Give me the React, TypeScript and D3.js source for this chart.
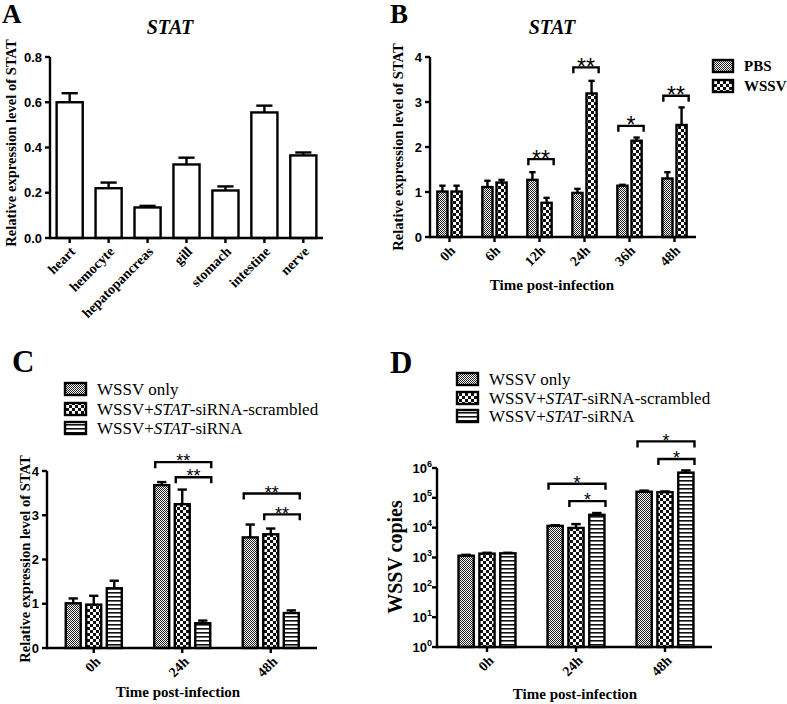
import React from 'react';
import * as d3 from 'd3';

const SERIF = '"Liberation Serif", "Times New Roman", Times, "DejaVu Serif", serif';
const SANS = '"Liberation Sans", Arial, Helvetica, sans-serif';

// ---------- Panel A data ----------
const tissues = ['heart', 'hemocyte', 'hepatopancreas', 'gill', 'stomach', 'intestine', 'nerve'];
const tissueMean = [0.6, 0.22, 0.135, 0.325, 0.21, 0.555, 0.365];
const tissueErr = [0.04, 0.025, 0.007, 0.03, 0.018, 0.03, 0.013];
const ticksA = [0, 0.2, 0.4, 0.6, 0.8];

// ---------- Panel B data ----------
const timesB = ['0h', '6h', '12h', '24h', '36h', '48h'];
const seriesB = ['PBS', 'WSSV'];
const pbsMean = [1.01, 1.11, 1.27, 0.98, 1.14, 1.3];
const pbsErr = [0.13, 0.14, 0.17, 0.09, 0.02, 0.14];
const wssvMean = [1.01, 1.21, 0.76, 3.19, 2.14, 2.49];
const wssvErr = [0.13, 0.06, 0.11, 0.28, 0.07, 0.39];
const ticksB = [0, 1, 2, 3, 4];
const sigBGroups = ['12h', '24h', '36h', '48h'];
const sigBLevels = [1.73, 3.77, 2.47, 3.14];
const sigBLabels = ['**', '**', '*', '**'];

// ---------- Panel C data ----------
const timesC = ['0h', '24h', '48h'];
const seriesC = ['WSSV only', 'WSSV+STAT-siRNA-scrambled', 'WSSV+STAT-siRNA'];
const cOnlyMean = [1.01, 3.68, 2.5];
const cOnlyErr = [0.11, 0.07, 0.29];
const cScrMean = [0.98, 3.25, 2.57];
const cScrErr = [0.2, 0.33, 0.13];
const cSiMean = [1.35, 0.56, 0.79];
const cSiErr = [0.17, 0.06, 0.06];
const ticksC = [0, 1, 2, 3, 4];
const sigCGroups = ['24h', '24h', '48h', '48h'];
const sigCFrom = [0, 1, 0, 1];
const sigCTo = [2, 2, 2, 2];
const sigCLevels = [4.2, 3.86, 3.49, 3.02];
const sigCLabels = ['**', '**', '**', '**'];

// ---------- Panel D data ----------
const dOnlyMean = [1150, 11500, 160000];
const dOnlyErr = [80, 600, 15000];
const dScrMean = [1350, 9800, 155000];
const dScrErr = [90, 3400, 9000];
const dSiMean = [1380, 27000, 700000];
const dSiErr = [60, 4000, 130000];
const ticksD = [1, 10, 100, 1000, 10000, 100000, 1000000];
const sigDGroups = ['24h', '24h', '48h', '48h'];
const sigDFrom = [0, 1, 0, 1];
const sigDTo = [2, 2, 2, 2];
const sigDLevels = [295000, 77600, 7800000, 2000000];
const sigDLabels = ['*', '*', '*', '*'];

const fills = ['url(#fine)', 'url(#checker)', 'url(#stripe)'];
const SW = 2.4;

const serif = (size: number, bold = true, italic = false): React.CSSProperties => ({
  fontFamily: SERIF,
  fontSize: size,
  fontWeight: bold ? 'bold' : 'normal',
  fontStyle: italic ? 'italic' : 'normal',
});
const sans = (size: number, bold = true): React.CSSProperties => ({
  fontFamily: SANS,
  fontSize: size,
  fontWeight: bold ? 'bold' : 'normal',
});

function Patterns() {
  return (
    <defs>
      <pattern id="fine" width="2" height="2" patternUnits="userSpaceOnUse">
        <rect width="2" height="2" fill="#fff" />
        <rect x="0" y="0" width="1" height="1" fill="#222" />
        <rect x="1" y="1" width="1" height="1" fill="#222" />
      </pattern>
      <pattern id="checker" width="6" height="6" patternUnits="userSpaceOnUse">
        <rect width="6" height="6" fill="#fff" />
        <rect width="3" height="3" fill="#111" />
        <rect x="3" y="3" width="3" height="3" fill="#111" />
      </pattern>
      <pattern id="stripe" width="4" height="4" patternUnits="userSpaceOnUse">
        <rect width="4" height="4" fill="#fff" />
        <rect y="0" width="4" height="1.6" fill="#111" />
      </pattern>
    </defs>
  );
}

function YAxis({ y, x, ticks, label, log }: any) {
  const [r0, r1] = y.range();
  return (
    <g>
      <line x1={x} x2={x} y1={r0 + SW / 2} y2={r1} stroke="#000" strokeWidth={SW} />
      {ticks.map((t: number) => (
        <g key={t}>
          <line x1={x - 5} x2={x} y1={y(t)} y2={y(t)} stroke="#000" strokeWidth={SW} />
          {log ? (
            <text x={x - 5} y={y(t) + 4.5} textAnchor="end" style={sans(13)}>
              10<tspan style={sans(9)} dy={-6}>{Math.round(Math.log10(t))}</tspan>
            </text>
          ) : (
            <text x={x - 8} y={y(t) + 4.5} textAnchor="end" style={sans(13)}>
              {label(t)}
            </text>
          )}
        </g>
      ))}
    </g>
  );
}

function XAxis({ x, y0, x0, x1, cats, dx, dy, fontSize }: any) {
  return (
    <g>
      <line x1={x0} x2={x1} y1={y0} y2={y0} stroke="#000" strokeWidth={SW} />
      {cats.map((c: string) => {
        const cx = x(c) + x.bandwidth() / 2;
        return (
          <g key={c}>
            <line x1={cx} x2={cx} y1={y0} y2={y0 + 5} stroke="#000" strokeWidth={SW} />
            <text
              transform={`translate(${cx + dx},${y0 + dy}) rotate(-45)`}
              textAnchor="end"
              dy="0.35em"
              style={serif(fontSize)}
            >
              {c}
            </text>
          </g>
        );
      })}
    </g>
  );
}

function Bar({ bx, bw, y, v, e, base, fill }: any) {
  const top = y(v);
  const et = y(v + e);
  const cx = bx + bw / 2;
  const cw = bw * 0.62;
  return (
    <g>
      <line x1={cx} x2={cx} y1={top} y2={et} stroke="#000" strokeWidth={SW} />
      <line x1={cx - cw / 2} x2={cx + cw / 2} y1={et} y2={et} stroke="#000" strokeWidth={SW} />
      <rect x={bx} y={top} width={bw} height={base - top} fill={fill} stroke="#000" strokeWidth={SW} />
    </g>
  );
}

function Bracket({ x0, x1, by, label, fs }: any) {
  return (
    <g>
      <path d={`M${x0},${by + 6}V${by}H${x1}V${by + 6}`} fill="none" stroke="#000" strokeWidth={SW} />
      <text x={(x0 + x1) / 2} y={by - 2.5 + 0.43 * fs} textAnchor="middle" style={sans(fs, false)}>
        {label}
      </text>
    </g>
  );
}

function LegendLabel({ text }: any) {
  const parts = text.split('STAT');
  return (
    <>
      {parts.map((p: string, i: number) => (
        <React.Fragment key={i}>
          {i > 0 && <tspan style={{ fontStyle: 'italic' }}>STAT</tspan>}
          <tspan>{p}</tspan>
        </React.Fragment>
      ))}
    </>
  );
}

function Legend3({ x, ys }: any) {
  return (
    <g>
      {seriesC.map((s, i) => (
        <g key={s}>
          <rect x={x} y={ys[i] - 6} width={21} height={12} fill={fills[i]} stroke="#000" strokeWidth={SW} />
          <text x={x + 32} y={ys[i] + 5.5} style={serif(17, false)}>
            <LegendLabel text={s} />
          </text>
        </g>
      ))}
    </g>
  );
}

function PanelA() {
  const y = d3.scaleLinear().domain([0, 0.8]).range([238, 57]);
  const x = d3.scaleBand().domain(tissues).range([50, 323]).paddingInner(0.33).paddingOuter(0.17);
  return (
    <g>
      <text x={2} y={23} style={serif(27)}>A</text>
      <text x={170} y={34} textAnchor="middle" style={serif(20, true, true)}>STAT</text>
      <text transform="translate(16,143) rotate(-90)" textAnchor="middle" style={serif(14.6)}>
        Relative expression level of STAT
      </text>
      {tissues.map((t, i) => (
        <Bar key={t} bx={x(t)} bw={x.bandwidth()} y={y} v={tissueMean[i]} e={tissueErr[i]} base={y(0)} fill="#fff" />
      ))}
      <XAxis x={x} y0={y(0)} x0={50} x1={323} cats={tissues} dx={3} dy={11} fontSize={14} />
      <YAxis y={y} x={50} ticks={ticksA} label={(t: number) => d3.format('.1f')(t)} />
    </g>
  );
}

function PanelB() {
  const y = d3.scaleLinear().domain([0, 4]).range([237, 57]);
  const x = d3.scaleBand().domain(timesB).range([427, 697]).paddingInner(0.46).paddingOuter(0.23);
  const inner = d3.scaleBand().domain(seriesB).range([0, x.bandwidth()]).paddingInner(0.28);
  const means = [pbsMean, wssvMean];
  const errs = [pbsErr, wssvErr];
  return (
    <g>
      <text x={390} y={23} style={serif(27)}>B</text>
      <text x={552} y={34} textAnchor="middle" style={serif(20, true, true)}>STAT</text>
      <text transform="translate(403,147) rotate(-90)" textAnchor="middle" style={serif(14.6)}>
        Relative expression level of STAT
      </text>
      {timesB.map((g, gi) =>
        seriesB.map((s, si) => (
          <Bar key={g + s} bx={(x(g) as number) + (inner(s) as number)} bw={inner.bandwidth()} y={y}
            v={means[si][gi]} e={errs[si][gi]} base={y(0)} fill={fills[si]} />
        ))
      )}
      {sigBGroups.map((g, i) => (
        <Bracket key={g} x0={(x(g) as number) + 1} x1={(x(g) as number) + x.bandwidth() + 2}
          by={y(sigBLevels[i])} label={sigBLabels[i]} fs={23} />
      ))}
      <XAxis x={x} y0={y(0)} x0={430} x1={696} cats={timesB} dx={3} dy={11} fontSize={14} />
      <YAxis y={y} x={430} ticks={ticksB} label={(t: number) => String(t)} />
      <text x={552} y={290} textAnchor="middle" style={serif(15)}>Time post-infection</text>
      {seriesB.map((s, i) => (
        <g key={s}>
          <rect x={713} y={60 + i * 20} width={20} height={12} fill={fills[i]} stroke="#000" strokeWidth={SW} />
          <text x={744} y={71 + i * 20} style={serif(15)}>{s}</text>
        </g>
      ))}
    </g>
  );
}

function GroupPanel({ y, x, inner, means, errs, sigG, sigF, sigT, sigL, sigLab, base }: any) {
  const keys = ['s0', 's1', 's2'];
  return (
    <g>
      {timesC.map((g, gi) =>
        keys.map((k, si) => (
          <Bar key={g + k} bx={x(g) + inner(k)} bw={inner.bandwidth()} y={y}
            v={means[si][gi]} e={errs[si][gi]} base={base} fill={fills[si]} />
        ))
      )}
      {sigG.map((g: string, i: number) => (
        <Bracket key={i} x0={x(g) + inner(keys[sigF[i]]) + 1} x1={x(g) + inner(keys[sigT[i]]) + inner.bandwidth() + 1}
          by={y(sigL[i])} label={sigLab[i]} fs={18} />
      ))}
    </g>
  );
}

function PanelC() {
  const y = d3.scaleLinear().domain([0, 4]).range([648, 471]);
  const x = d3.scaleBand().domain(timesC).range([49.5, 315]).paddingInner(0.367).paddingOuter(0.1835);
  const inner = d3.scaleBand().domain(['s0', 's1', 's2']).range([0, x.bandwidth()]).paddingInner(0.27);
  return (
    <g>
      <text x={12} y={372} style={serif(31)}>C</text>
      <Legend3 x={65} ys={[389, 409, 428]} />
      <text transform="translate(30,559) rotate(-90)" textAnchor="middle" style={serif(14.6)}>
        Relative expression level of STAT
      </text>
      <GroupPanel y={y} x={x} inner={inner} means={[cOnlyMean, cScrMean, cSiMean]} errs={[cOnlyErr, cScrErr, cSiErr]}
        sigG={sigCGroups} sigF={sigCFrom} sigT={sigCTo} sigL={sigCLevels} sigLab={sigCLabels} base={y(0)} />
      <XAxis x={x} y0={y(0)} x0={47} x1={317} cats={timesC} dx={4} dy={11} fontSize={14} />
      <YAxis y={y} x={47} ticks={ticksC} label={(t: number) => String(t)} />
      <text x={178} y={697} textAnchor="middle" style={serif(15)}>Time post-infection</text>
    </g>
  );
}

function PanelD() {
  const y = d3.scaleLog().domain([1, 1e6]).range([647, 468]);
  const x = d3.scaleBand().domain(timesC).range([442.5, 709.5]).paddingInner(0.36).paddingOuter(0.18);
  const inner = d3.scaleBand().domain(['s0', 's1', 's2']).range([0, x.bandwidth()]).paddingInner(0.27);
  return (
    <g>
      <text x={390} y={373} style={serif(31)}>D</text>
      <Legend3 x={457} ys={[379, 398, 416]} />
      <text transform="translate(402,557) rotate(-90)" textAnchor="middle" style={serif(20)}>
        WSSV copies
      </text>
      <GroupPanel y={y} x={x} inner={inner} means={[dOnlyMean, dScrMean, dSiMean]} errs={[dOnlyErr, dScrErr, dSiErr]}
        sigG={sigDGroups} sigF={sigDFrom} sigT={sigDTo} sigL={sigDLevels} sigLab={sigDLabels} base={y(1)} />
      <XAxis x={x} y0={y(1)} x0={437} x1={712} cats={timesC} dx={4} dy={11} fontSize={14} />
      <YAxis y={y} x={437} ticks={ticksD} log />
      <text x={575} y={699} textAnchor="middle" style={serif(15)}>Time post-infection</text>
    </g>
  );
}

export default function App() {
  return (
    <svg width={787} height={704} viewBox="0 0 787 704" style={{ position: 'absolute', left: 0, top: 0, background: '#fff' }}>
      <Patterns />
      <rect width={787} height={704} fill="#fff" />
      <PanelA />
      <PanelB />
      <PanelC />
      <PanelD />
    </svg>
  );
}
